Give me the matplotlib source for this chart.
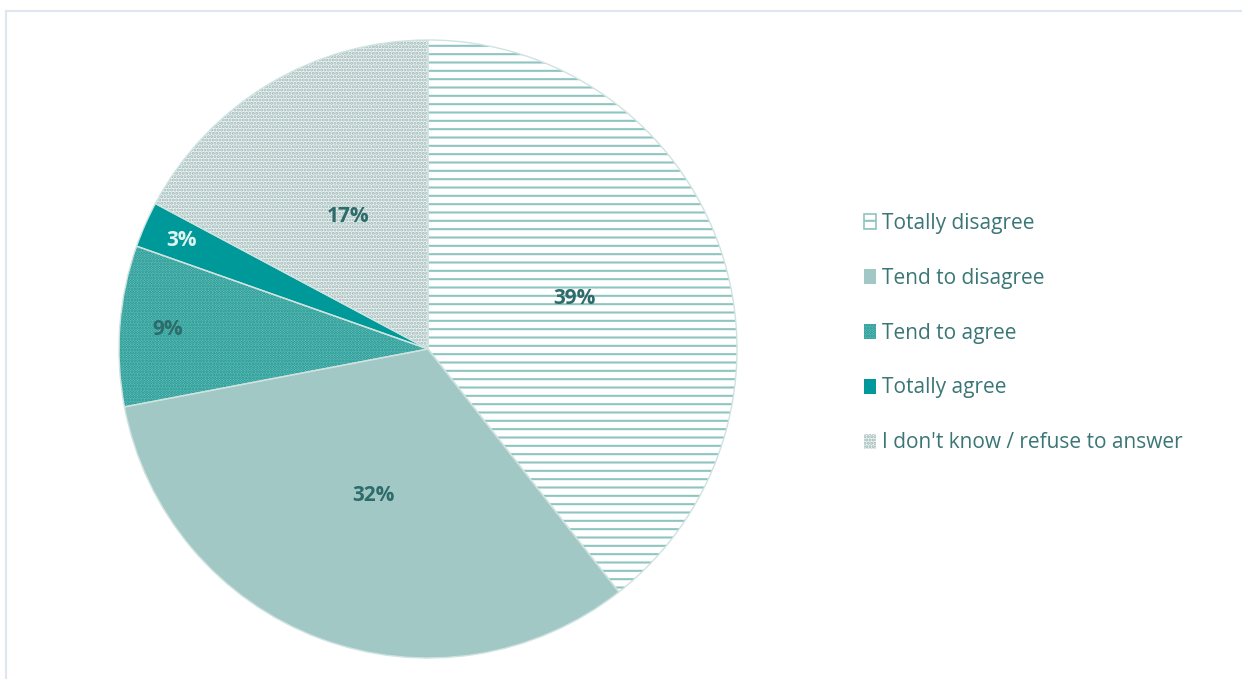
import matplotlib.pyplot as plt
from matplotlib.lines import Line2D
import numpy as np

plt.rcParams['font.family'] = ['Open Sans', 'DejaVu Sans']
plt.rcParams['hatch.linewidth'] = 1.5

labels = ['Totally disagree', 'Tend to disagree', 'Tend to agree',
          'Totally agree', "I don't know / refuse to answer"]
shares = [39.4, 32.6, 8.4, 2.4, 17.2]
pct_labels = ['39%', '32%', '9%', '3%', '17%']

faces = ['#ffffff', '#a2c8c6', '#7cc6c1', '#00999a', '#eef2f2']
hatch_cols = ['#8fc5c1', '#a2c8c6', '#0f918c', '#00999a', '#9ab7b6']
hatches = ['--', None, '......', None, '.....']
label_cols = ['#2e6c6c', '#2e6c6c', '#2e6c6c', '#dff3f1', '#2e6c6c']
label_dist = [0.50, 0.505, 0.845, 0.87, 0.50]

W, H = 1242, 679
fig = plt.figure(figsize=(W / 100, H / 100), dpi=100)

cx, cy, r = 428, 349, 309
ax = fig.add_axes([(cx - r) / W, (H - cy - r) / H, 2 * r / W, 2 * r / H])

wedges, _ = ax.pie(shares, startangle=90, counterclock=False, radius=1,
                   wedgeprops=dict(linewidth=0))
for w, fc, hc, h in zip(wedges, faces, hatch_cols, hatches):
    w.set_facecolor(fc)
    w.set_edgecolor(hc)
    if h:
        w.set_hatch(h)

# thin light separators / outline
ax.pie(shares, startangle=90, counterclock=False, radius=1,
       wedgeprops=dict(fill=False, edgecolor='#cfe3e1', linewidth=1.0))

# percentage labels
cum = np.cumsum([0] + shares[:-1])
total = sum(shares)
for s, c0, txt, d, col in zip(shares, cum, pct_labels, label_dist, label_cols):
    ang = np.deg2rad(90 - (c0 + s / 2) / total * 360)
    ax.text(d * np.cos(ang), d * np.sin(ang), txt, ha='center', va='center',
            fontsize=15, fontweight='bold', color=col)

ax.set_xlim(-1, 1)
ax.set_ylim(-1, 1)
ax.set_aspect('equal')
ax.axis('off')

leg = fig.legend(wedges, labels, loc='center left',
                 bbox_to_anchor=(845 / W, 1 - 333 / H), frameon=False,
                 fontsize=15, labelcolor='#3b7676', handlelength=0.6,
                 handleheight=0.75, handletextpad=0.3, labelspacing=1.63)
h0 = leg.legend_handles[0]
h0.set_linewidth(1.2)
h0.set_edgecolor('#8fc5c1')

# chart border (top and left edges)
fig.add_artist(Line2D([6 / W, 1], [1 - 11 / H, 1 - 11 / H], color='#dde6f1', lw=1.5))
fig.add_artist(Line2D([6 / W, 6 / W], [0, 1 - 11 / H], color='#dde6f1', lw=1.5))

fig.savefig('out.png', dpi=100)
